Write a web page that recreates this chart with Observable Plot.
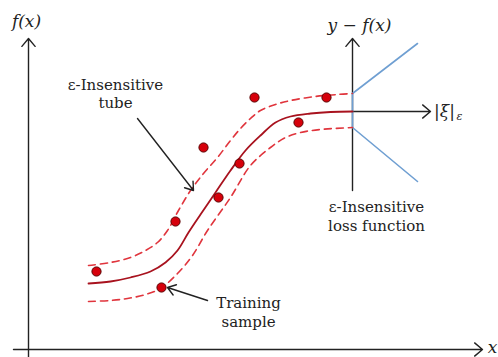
<!DOCTYPE html>
<html>
<head>
<meta charset="utf-8">
<script src="https://cdn.jsdelivr.net/npm/d3@7"></script>
<script src="https://cdn.jsdelivr.net/npm/@observablehq/plot@0.6"></script>
<style>
  html, body { margin: 0; padding: 0; background: #fff; }
  #chart svg { display: block; }
</style>
</head>
<body>
<div id="chart"></div>
<script>
// Regression function f(x) (solid) — chart units, origin at axes crossing
const fitX  = [60, 82, 102, 122, 137, 149, 160, 172, 187, 202, 217, 232, 247, 262, 282, 302, 324];
const fitY  = [66, 68, 72, 78, 87, 99, 117, 135, 157, 179, 199, 214, 227, 233, 236, 237.5, 238];
// Upper edge of the ε-tube (dashed)
const upX   = [60, 82, 102, 117, 129, 139, 150, 162, 175, 189, 202, 212, 222, 232, 247, 262, 287, 309, 324];
const upY   = [84, 87, 92, 99, 107, 119, 139, 159, 176, 192, 209, 221, 231, 239, 245, 249, 253, 255, 256];
// Lower edge of the ε-tube (dashed)
const loX   = [60, 82, 99, 117, 132, 149, 164, 179, 202, 222, 242, 257, 272, 292, 324];
const loY   = [48, 49, 51, 55, 61, 76, 94, 119, 152, 184, 202, 212, 217, 220, 222];
// Training samples
const ptX   = [68, 133, 147, 175, 190, 211, 226, 270, 298];
const ptY   = [78, 62, 128, 202, 152, 186, 252, 227, 252];
// ε-insensitive loss function (blue)
const lossUpper = [[324, 256], [389, 306]];
const lossLower = [[324, 222], [389, 168]];
const lossFlat  = [[324, 222], [324, 256]];
// Axes (x1, y1, x2, y2)
const axesArrows = [
  [0, -8, 0, 311],       // f(x) axis
  [-15, 0, 454, 0],      // x axis
  [324, 159, 324, 311],  // y - f(x) axis
  [324, 238, 402, 238]   // |ξ|ε axis
];
// Annotation arrows
const noteArrows = [
  [109, 231, 165, 159],  // to tube
  [179, 49, 139, 62]     // to training sample
];
// Labels
const labels = [
  {t: "ε-Insensitive", x: 87, y: 264},
  {t: "tube", x: 87, y: 246},
  {t: "Training", x: 220, y: 46},
  {t: "sample", x: 220, y: 27},
  {t: "ε-Insensitive", x: 348, y: 142},
  {t: "loss function", x: 348, y: 123}
];
const mathLabels = [
  {t: "f(x)", x: -2, y: 328},
  {t: "y − f(x)", x: 331, y: 324},
  {t: "x", x: 464, y: 2}
];

const fit = fitX.map((x, i) => ({x, y: fitY[i]}));
const up = upX.map((x, i) => ({x, y: upY[i]}));
const lo = loX.map((x, i) => ({x, y: loY[i]}));
const pts = ptX.map((x, i) => ({x, y: ptY[i]}));
const toObj = a => a.map(d => ({x1: d[0], y1: d[1], x2: d[2], y2: d[3]}));

const font = "DejaVu Serif";
const ink = "#222";

const plot = Plot.plot({
  width: 498,
  height: 357,
  margin: 0,
  x: {domain: [-28, 470], axis: null},
  y: {domain: [-8, 349], axis: null},
  style: {background: "#fff"},
  marks: [
    Plot.arrow(toObj(axesArrows), {x1: "x1", y1: "y1", x2: "x2", y2: "y2", stroke: ink, strokeWidth: 1.4, headLength: 11, headAngle: 80}),
    Plot.line(lossFlat, {x: d => d[0], y: d => d[1], stroke: "#6f9fd2", strokeWidth: 1.6}),
    Plot.line(lossUpper, {x: d => d[0], y: d => d[1], stroke: "#6f9fd2", strokeWidth: 1.6}),
    Plot.line(lossLower, {x: d => d[0], y: d => d[1], stroke: "#6f9fd2", strokeWidth: 1.6}),
    Plot.line(up, {x: "x", y: "y", curve: "catmull-rom", stroke: "#e0353d", strokeWidth: 1.6, strokeDasharray: "7,5"}),
    Plot.line(lo, {x: "x", y: "y", curve: "catmull-rom", stroke: "#e0353d", strokeWidth: 1.6, strokeDasharray: "7,5"}),
    Plot.line(fit, {x: "x", y: "y", curve: "catmull-rom", stroke: "#a8121e", strokeWidth: 1.8}),
    Plot.dot(pts, {x: "x", y: "y", r: 4.6, fill: "#d6000b", stroke: "#5a0000", strokeWidth: 1}),
    Plot.arrow(toObj(noteArrows), {x1: "x1", y1: "y1", x2: "x2", y2: "y2", stroke: ink, strokeWidth: 1.4, headLength: 10, headAngle: 70}),
    Plot.text(labels, {x: "x", y: "y", text: "t", fontFamily: font, fontSize: 15, fill: ink}),
    Plot.text(mathLabels, {x: "x", y: "y", text: "t", fontFamily: font, fontSize: 17, fontStyle: "italic", fill: ink}),
    Plot.text(["|ξ|"], {x: 416, y: 238, text: d => d, fontFamily: font, fontSize: 17, fontStyle: "italic", fill: ink}),
    Plot.text(["ε"], {x: 431, y: 233, text: d => d, fontFamily: font, fontSize: 11, fontStyle: "italic", fill: ink})
  ]
});
document.getElementById("chart").appendChild(plot);
</script>
</body>
</html>
